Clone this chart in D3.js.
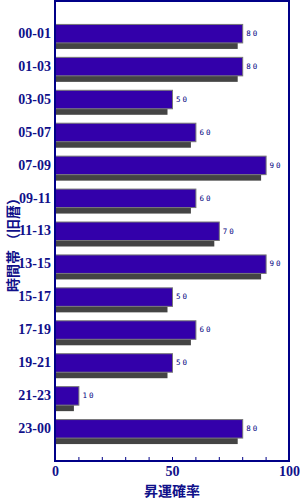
<!DOCTYPE html>
<html>
<head>
<meta charset="utf-8">
<script src="https://cdn.jsdelivr.net/npm/d3@7"></script>
<style>
	html, body { margin: 0; padding: 0; background: #fff; }
	svg { display: block; }
</style>
</head>
<body>
<div id="viz"><svg width="300" height="500"></svg></div>
<script>
const categories = ['00-01', '01-03', '03-05', '05-07', '07-09', '09-11', '11-13',
	'13-15', '15-17', '17-19', '19-21', '21-23', '23-00'];
const values = [80, 80, 50, 60, 90, 60, 70, 90, 50, 60, 50, 10, 80];
const xTicks = [0, 10, 20, 30, 40, 50, 60, 70, 80, 90, 100];
const xTickLabels = [0, 50, 100];
const yTitle = '時間帯 （旧暦）';
const xTitle = '昇運確率';

const svg = d3.select('#viz svg');
const navy = '#10108a';
const serif = '"Liberation Serif", "Times New Roman", serif';

const plot = { left: 55, right: 289, top: 0, bottom: 461 };

const x = d3.scaleLinear().domain([0, 100]).range([plot.left, plot.right]);
const y = d3.scalePoint().domain(categories).range([plot.top, plot.bottom]).padding(1);

// shadows under bars
svg.append('g')
	.selectAll('rect')
	.data(values)
	.enter()
		.append('rect')
		.attr('x', plot.left + 1)
		.attr('y', (d, i) => y(categories[i]) + 10)
		.attr('width', d => Math.max(0, x(d) - plot.left - 5.5))
		.attr('height', 6)
		.style('fill', '#444');

// bars
svg.append('g')
	.selectAll('rect')
	.data(values)
	.enter()
		.append('rect')
		.attr('x', plot.left + 0.5)
		.attr('y', (d, i) => y(categories[i]) - 8.5)
		.attr('width', d => x(d) - plot.left)
		.attr('height', 18.5)
		.style('fill', '#3300aa')
		.style('stroke', '#777')
		.style('stroke-width', 1);

// value labels
svg.append('g')
	.selectAll('text')
	.data(values)
	.enter()
		.append('text')
		.attr('x', d => x(d) + 4)
		.attr('y', (d, i) => y(categories[i]) + 3)
		.text(d => d)
		.style('font-family', '"DejaVu Sans Mono", monospace')
		.style('font-size', '7.5px')
		.style('letter-spacing', '2px')
		.style('fill', '#000080');

// frame
svg.append('rect')
	.attr('x', plot.left)
	.attr('y', plot.top + 1)
	.attr('width', plot.right - plot.left)
	.attr('height', plot.bottom - plot.top - 1)
	.style('fill', 'none')
	.style('stroke', '#000088')
	.style('stroke-width', 2);

// x axis ticks (inward) and labels
const xAxis = d3.axisBottom(x)
	.tickValues(xTicks)
	.tickSizeInner(-4)
	.tickSizeOuter(0)
	.tickFormat(d => xTickLabels.includes(d) ? d : '');

const gx = svg.append('g')
	.attr('transform', `translate(0,${plot.bottom})`)
	.call(xAxis);
gx.select('.domain').remove();
gx.selectAll('line').style('stroke', '#000088');
gx.selectAll('text')
	.attr('y', 5)
	.attr('dy', '0.71em')
	.style('font-family', serif)
	.style('font-weight', 'bold')
	.style('font-size', '14px')
	.style('fill', navy);

// y axis labels
const yAxis = d3.axisLeft(y).tickSize(0).tickPadding(4);
const gy = svg.append('g')
	.attr('transform', `translate(${plot.left},0)`)
	.call(yAxis);
gy.select('.domain').remove();
gy.selectAll('text')
	.style('font-family', serif)
	.style('font-weight', 'bold')
	.style('font-size', '14px')
	.style('fill', navy);

// titles
svg.append('text')
	.attr('transform', `translate(18,${(plot.top + plot.bottom) / 2 + 11}) rotate(-90)`)
	.attr('text-anchor', 'middle')
	.text(yTitle)
	.style('font-family', '"Noto Sans CJK JP", sans-serif')
	.style('font-weight', 'bold')
	.style('font-size', '14px')
	.style('fill', navy);

svg.append('text')
	.attr('x', (plot.left + plot.right) / 2)
	.attr('y', 496)
	.attr('text-anchor', 'middle')
	.text(xTitle)
	.style('font-family', '"Noto Sans CJK JP", sans-serif')
	.style('font-weight', 'bold')
	.style('font-size', '14px')
	.style('fill', navy);
</script>
</body>
</html>
